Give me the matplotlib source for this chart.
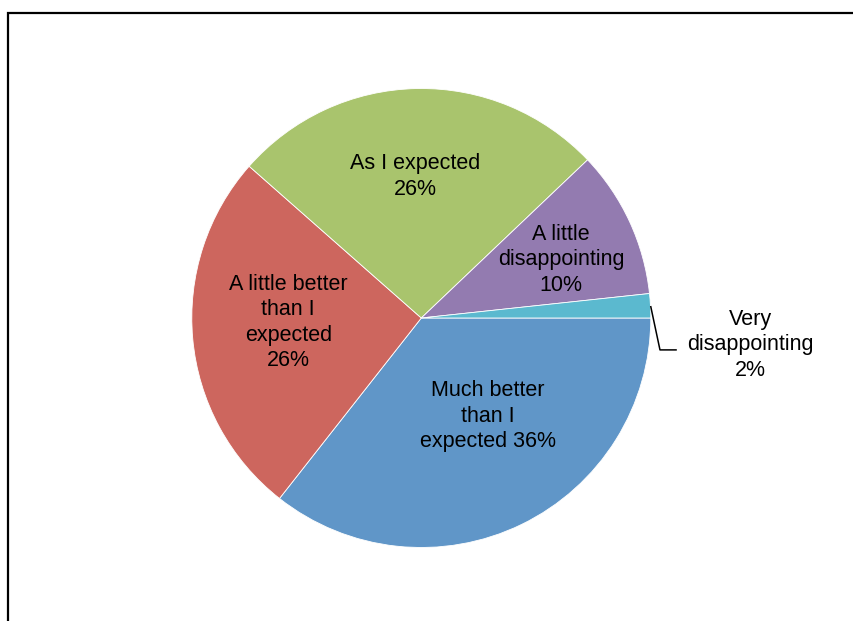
import matplotlib
matplotlib.use("Agg")
import matplotlib.pyplot as plt

plt.rcParams['font.family'] = ['Liberation Sans', 'DejaVu Sans']

# 数据: 从3点钟方向顺时针
categories = ["Much better\nthan I\nexpected", "A little better\nthan I\nexpected",
              "As I expected", "A little\ndisappointing", "Very\ndisappointing"]
values = [35.6, 25.9, 26.4, 10.4, 1.7]
pct_labels = ["36%", "26%", "26%", "10%", "2%"]
colors = ["#6096c8", "#cd665e", "#a9c46d", "#937bb0", "#5bb9cf"]

W, H = 854, 621
cx, cy, R = 421.3, H - 318, 229.5

fig = plt.figure(figsize=(W / 100, H / 100), dpi=100)
ax = fig.add_axes([0, 0, 1, 1])

wedges, _ = ax.pie(values, colors=colors, startangle=0, counterclock=False,
                   center=(cx, cy), radius=R,
                   wedgeprops=dict(edgecolor='white', linewidth=0.6))
ax.set_xlim(0, W)
ax.set_ylim(0, H)
ax.set_aspect('auto')
ax.axis('off')

# 标签位置(以半径为单位, 相对圆心)
label_offsets = [(0.29, -0.429), (-0.58, -0.02), (-0.025, 0.616), (0.61, 0.253), (1.435, -0.117)]
for i in range(len(categories)):
    name = categories[i]
    if i == 0:
        txt = name + " " + pct_labels[i]
    else:
        txt = name + "\n" + pct_labels[i]
    ox, oy = label_offsets[i]
    ax.text(cx + ox * R, cy + oy * R, txt, ha='center', va='center',
            fontsize=15.5, linespacing=1.28, color='black')

# 引线
lx = [cx + 1.0 * R, cx + 1.04 * R, cx + 1.11 * R]
ly = [cy + 0.049 * R, cy - 0.139 * R, cy - 0.139 * R]
ax.plot(lx, ly, color='black', linewidth=1.1)

# 外框
ax.plot([8, 8, W + 10], [-10, H - 13, H - 13], color='black', linewidth=1.6,
        clip_on=False, solid_joinstyle='miter')

fig.savefig("out.png", dpi=100)
